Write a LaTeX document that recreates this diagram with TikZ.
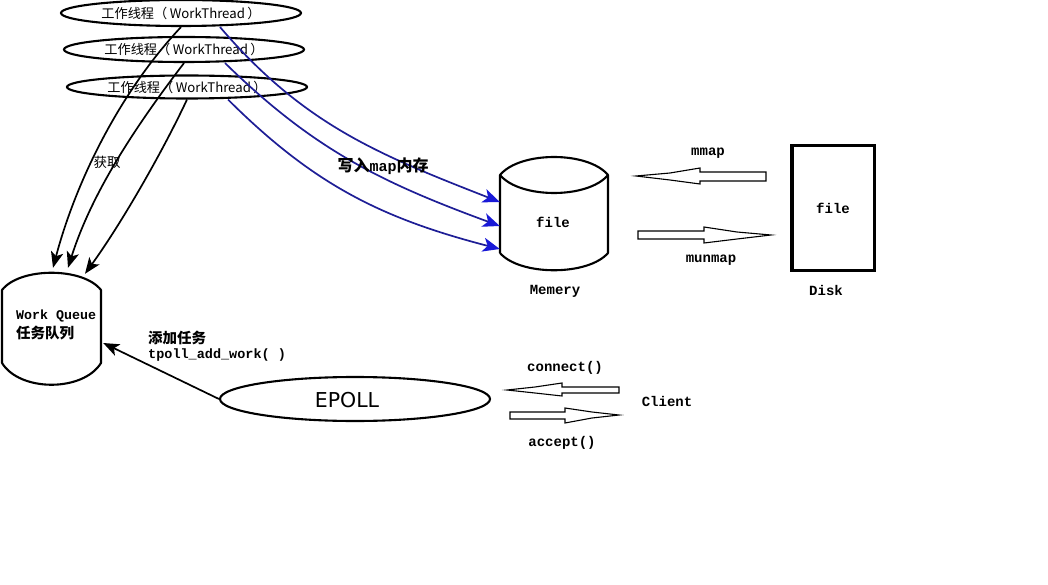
\documentclass[tikz,border=0pt]{standalone}
\usepackage{fontspec}
\setmainfont{DejaVu Sans}
\newfontfamily\cjk{Noto Sans CJK SC}
\newfontfamily\monob{Liberation Mono}
\usetikzlibrary{arrows.meta,shapes.geometric}
\definecolor{navyline}{RGB}{30,30,150}
\definecolor{tipblue}{RGB}{25,25,215}
\newcommand{\wtlabel}{工作线程（\hspace{2.5pt}WorkThread\hspace{2.5pt}）}
\begin{document}
\begin{tikzpicture}[x=1pt,y=-1pt,
  thread/.style={ellipse,draw,line width=2.1pt,minimum width=240pt,inner sep=0pt,
    font=\cjk\fontsize{13.2}{14}\selectfont},
  cyl/.style={line width=2.1pt,line join=round},
  anchorbox/.style={draw=none,inner sep=0pt},
  lbl/.style={inner sep=0pt,font=\monob\bfseries\fontsize{14}{14}\selectfont},
  cjklbl/.style={inner sep=0pt,font=\cjk\bfseries\fontsize{14.5}{15}\selectfont},
  getarrow/.style={line width=1.7pt,-{Stealth[length=16pt,width=12.5pt,inset=4pt]}},
  writearrow/.style={navyline,line width=1.7pt,-{Stealth[length=17pt,width=14pt,inset=4.5pt,color=tipblue]}},
  hollow/.style={draw,line width=1.1pt,fill=white,line join=miter}]
\useasboundingbox (0,0) rectangle (1048,585);
\fill[white] (0,0) rectangle (1048,585);

% worker threads
\node[thread,minimum height=26pt] (t1) at (181,13) {\wtlabel};
\node[thread,minimum height=25pt] (t2) at (184,49.5) {\wtlabel};
\node[thread,minimum height=23pt] (t3) at (187,87) {\wtlabel};

% work queue cylinder
\draw[cyl] (2,363) -- (2,290) .. controls (20,267) and (83,267) .. (101,290) -- (101,363)
  .. controls (83,392) and (20,392) .. (2,363);
\node[anchorbox,minimum width=99pt,minimum height=112pt] (wq) at (51.5,329) {};
\node[lbl,anchor=west,font=\monob\bfseries\fontsize{13.3}{14}\selectfont] (wqen) at (16,316) {Work Queue};
\node[cjklbl,anchor=west] (wqcn) at (16,333) {任务队列};

% memory cylinder
\draw[cyl] (500,253) -- (500,175) .. controls (520,151) and (588,151) .. (608,175) -- (608,253)
  .. controls (588,276) and (520,276) .. (500,253);
\draw[cyl] (500,175) .. controls (520,199) and (588,199) .. (608,175);
\node[anchorbox,minimum width=108pt,minimum height=113pt] (mem) at (554,213.5) {};
\node[lbl] (memfile) at (553,222) {file};
\node[lbl] (memlbl) at (555,291) {Memery};

% disk
\node[draw,line width=3.5pt,minimum width=82.5pt,minimum height=124.5pt,inner sep=0pt,
  font=\monob\bfseries\fontsize{14}{14}\selectfont] (disk) at (833,208) {file};
\node[lbl] (disklbl) at (826,290) {Disk};

% mmap / munmap
\draw[hollow] (766,172) -- (700,172) -- (700,168) -- (670,173) -- (636,176) -- (670,180)
  -- (700,184) -- (700,181) -- (766,181) -- cycle;
\node[lbl] (mmaplbl) at (708,153) {mmap};
\draw[hollow] (638,231) -- (704,231) -- (704,227) -- (737,232) -- (771,235) -- (737,239)
  -- (704,243) -- (704,239) -- (638,239) -- cycle;
\node[lbl] (munmaplbl) at (711,260) {munmap};

% EPOLL
\node[ellipse,draw,line width=2.1pt,minimum width=270pt,minimum height=44pt,inner sep=0pt] (ep) at (355,399) {};
\node[inner sep=0pt,font=\fontsize{20.5}{21}\selectfont] (eplbl) at (347,400) {EPOLL};

% connect / accept
\draw[hollow] (619,387) -- (562,387) -- (562,383) -- (535,387) -- (507,390) -- (535,393)
  -- (562,396) -- (562,393) -- (619,393) -- cycle;
\node[lbl] (connlbl) at (565,368) {connect()};
\draw[hollow] (510,412) -- (565,412) -- (565,408) -- (592,412) -- (619,415) -- (592,418)
  -- (565,423) -- (565,419) -- (510,419) -- cycle;
\node[lbl] (acclbl) at (562,443) {accept()};
\node[lbl] (client) at (667,401) {Client};

% get arrows
\draw[getarrow] (t1.south) .. controls (120,92) and (76,181) .. ([xshift=1.5pt,yshift=5pt]wq.north);
\draw[getarrow] (t2.south) .. controls (136,126) and (92,192) .. ([xshift=16.5pt,yshift=5pt]wq.north);
\draw[getarrow] (t3.south) .. controls (162,153) and (121,224) .. ([xshift=33.5pt,yshift=-1pt]wq.north);
\node[inner sep=0pt,font=\cjk\fontsize{13.5}{14}\selectfont] (getlbl) at (107,162) {获取};

% write arrows
\draw[writearrow] ([xshift=39pt]t1.south) .. controls (303,124) and (377,154) .. ([yshift=11.5pt]mem.west);
\draw[writearrow] ([xshift=41pt]t2.south) .. controls (313,149) and (380,182) .. ([yshift=-12.5pt]mem.west);
\draw[writearrow] ([xshift=41pt]t3.south) .. controls (313,184) and (380,218) .. ([yshift=-35.5pt]mem.west);
\node[inner sep=0pt] (writelbl) at (383,166)
  {{\cjk\bfseries\fontsize{16}{16}\selectfont 写入}{\monob\bfseries\fontsize{15}{15}\selectfont map}{\cjk\bfseries\fontsize{16}{16}\selectfont 内存}};

% add work arrow
\draw[getarrow] (ep.west) -- ([xshift=2pt,yshift=-14pt]wq.east);
\node[cjklbl,anchor=west] (addcn) at (148,338) {添加任务};
\node[lbl,anchor=west,font=\monob\bfseries\fontsize{13.5}{14}\selectfont] (adden) at (148,355) {tpoll\_add\_work( )};
\end{tikzpicture}
\end{document}
